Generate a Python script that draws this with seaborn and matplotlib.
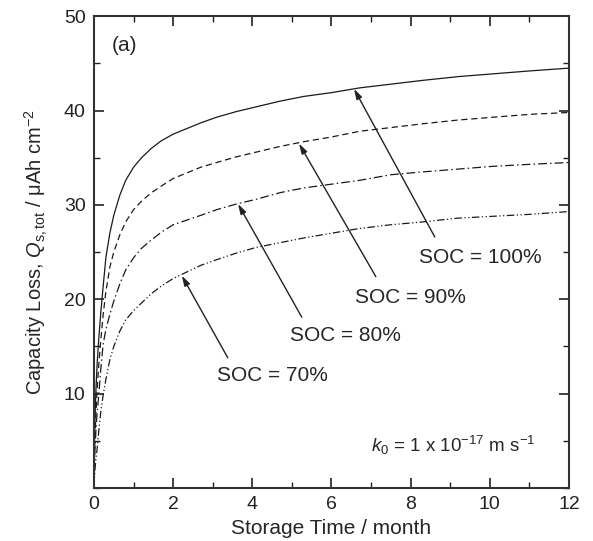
import matplotlib
matplotlib.use("Agg")
import matplotlib.pyplot as plt
import pandas as pd
import seaborn as sns
from matplotlib.ticker import MultipleLocator

# Storage time (month) and capacity loss (uAh cm^-2)
months = [0, 0.005, 0.015, 0.03, 0.05, 0.08, 0.12, 0.17, 0.23, 0.3, 0.4, 0.5,
          0.65, 0.8, 1.0, 1.2, 1.45, 1.7, 2.0, 2.35, 2.7, 3.1, 3.6, 4.1, 4.7,
          5.3, 6.0, 6.7, 7.5, 8.3, 9.2, 10.1, 11.0, 12.0]
loss_100 = [0, 3.0, 5.5, 8.0, 10.5, 13.2, 15.8, 18.5, 21.3, 24.4, 27.0, 28.9,
            31.0, 32.6, 34.0, 35.0, 36.0, 36.8, 37.5, 38.1, 38.7, 39.3, 39.9,
            40.4, 41.0, 41.5, 41.9, 42.4, 42.8, 43.2, 43.6, 43.9, 44.2, 44.5]
loss_90 = [0, 2.2, 4.0, 6.0, 8.0, 10.5, 13.0, 15.6, 18.3, 20.8, 23.4, 25.0,
           26.8, 28.2, 29.5, 30.4, 31.3, 32.0, 32.8, 33.4, 34.0, 34.5, 35.1,
           35.6, 36.2, 36.7, 37.2, 37.8, 38.2, 38.6, 39.0, 39.3, 39.6, 39.8]
loss_80 = [0, 1.5, 3.0, 4.5, 6.2, 8.0, 9.8, 12.5, 15.2, 16.8, 18.4, 19.8,
           21.6, 23.1, 24.4, 25.4, 26.3, 27.1, 27.9, 28.4, 28.9, 29.5, 30.1,
           30.6, 31.3, 31.8, 32.2, 32.6, 33.2, 33.5, 33.8, 34.1, 34.3, 34.5]
loss_70 = [0, 0.7, 1.4, 2.2, 3.1, 4.2, 6.0, 8.0, 9.8, 11.5, 13.6, 15.0,
           16.6, 17.8, 18.8, 19.6, 20.6, 21.4, 22.2, 22.9, 23.6, 24.2, 24.9,
           25.5, 26.0, 26.5, 27.0, 27.5, 27.9, 28.2, 28.6, 28.8, 29.0, 29.3]

soc_labels = ["SOC = 100%", "SOC = 90%", "SOC = 80%", "SOC = 70%"]
# label centre, arrow tail and arrow tip in data units
label_pos = [(9.77, 24.4), (8.0, 20.2), (6.36, 16.2), (4.52, 11.9)]
arrow_tail = [(8.61, 26.6), (7.12, 22.4), (5.25, 18.1), (3.38, 13.8)]
arrow_tip = [(6.57, 42.3), (5.18, 36.5), (3.64, 30.1), (2.22, 22.5)]

sns.set_theme(style="ticks")
plt.rcParams["font.family"] = ["Liberation Sans", "DejaVu Sans"]
plt.rcParams["mathtext.fontset"] = "custom"
plt.rcParams["mathtext.rm"] = "Liberation Sans"
plt.rcParams["mathtext.it"] = "Liberation Sans:italic"

fig = plt.figure(figsize=(5.93, 5.41), dpi=100)
ax = fig.add_axes([0.1585, 0.098, 0.801, 0.872])

series = [loss_100, loss_90, loss_80, loss_70]
dash_styles = ["-", (0, (5, 3)), (0, (7, 2.5, 1.2, 2.5)), (0, (6, 2, 1, 2, 1, 2))]
for vals, ls in zip(series, dash_styles):
    df = pd.DataFrame({"t": months, "q": vals})
    sns.lineplot(data=df, x="t", y="q", ax=ax, color="#1a1a1a", lw=0.9,
                 linestyle=ls)

for text, pos, tail, tip in zip(soc_labels, label_pos, arrow_tail, arrow_tip):
    ax.annotate("", xy=tip, xytext=tail,
                arrowprops=dict(arrowstyle="-|>,head_length=0.5,head_width=0.15",
                                color="#222222", lw=1.0, shrinkA=0, shrinkB=0))
    ax.text(pos[0], pos[1], text, ha="center", va="center", fontsize=15)

ax.text(0.038, 0.939, "(a)", transform=ax.transAxes, fontsize=15, va="center")
ax.text(7.0, 3.8, r"$\mathit{k}_0$ = 1 x 10$^{-17}$ m s$^{-1}$", fontsize=13.5,
        va="baseline")

ax.set_xlim(0, 12)
ax.set_ylim(0, 50)
ax.xaxis.set_major_locator(MultipleLocator(2))
ax.xaxis.set_minor_locator(MultipleLocator(1))
ax.yaxis.set_minor_locator(MultipleLocator(5))
ax.set_yticks([10, 20, 30, 40, 50])
ax.tick_params(which="both", direction="in", top=True, right=True,
               labelsize=14, colors="#222222", pad=6)
ax.tick_params(which="major", length=7, width=1.2)
ax.tick_params(which="minor", length=4, width=1.0)
for sp in ax.spines.values():
    sp.set_linewidth(1.5)
    sp.set_color("#333333")

ax.set_xlabel("Storage Time / month", fontsize=15, labelpad=4)
ax.set_ylabel(r"Capacity Loss, $\mathit{Q}_{\mathrm{s,tot}}$ / μAh cm$^{-2}$",
              fontsize=14.5, labelpad=10)

fig.savefig("out.png", dpi=100)
